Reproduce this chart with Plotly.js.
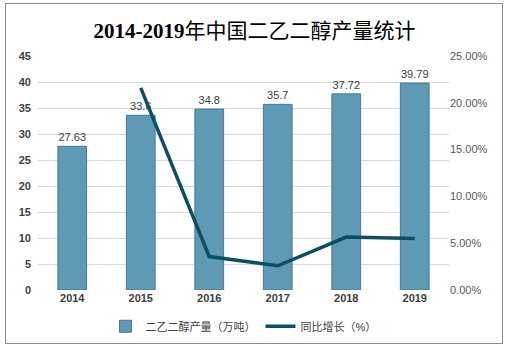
<!DOCTYPE html>
<html><head><meta charset="utf-8">
<script src="https://cdn.plot.ly/plotly-3.0.1.min.js"></script>
<style>html,body{margin:0;padding:0;background:#fff;}#frame{position:absolute;left:5px;top:3px;width:496px;height:339px;border:1px solid #8c8c8c;pointer-events:none;z-index:10;}#chart{position:absolute;left:0;top:0;width:509px;height:358px;}</style>
</head><body>
<div id="chart"></div><div id="frame"></div>
<script>
const years = ['2014','2015','2016','2017','2018','2019'];
const output = [27.63, 33.6, 34.8, 35.7, 37.72, 39.79];
const outputLabels = ['27.63','33.6','34.8','35.7','37.72','39.79'];
const growthYears = ['2015','2016','2017','2018','2019'];
const growth = [0.216, 0.0357, 0.0259, 0.0566, 0.0549];

const cjk = 'Liberation Sans, Noto Sans CJK SC, sans-serif';
const data = [
  {type:'bar', x:years, y:output, name:'二乙二醇产量（万吨）', width:0.42,
   marker:{color:'#5e9ab6', line:{color:'#4a7a90', width:1}},
   text:outputLabels, textposition:'outside', cliponaxis:false,
   textfont:{family:cjk, size:11, color:'#404040'}},
  {type:'scatter', mode:'lines', x:growthYears, y:growth, yaxis:'y2', name:'同比增长（%）',
   line:{color:'#0b4f63', width:3.5}}
];
const layout = {
  width:509, height:358,
  margin:{l:38, r:60, t:56, b:68},
  paper_bgcolor:'#fff', plot_bgcolor:'#fff',
  title:{text:'<b>2014-2019</b>年中国二乙二醇产量统计', font:{family:'Liberation Serif, Noto Sans CJK SC, serif', size:21, color:'#000'}, x:0.5, xanchor:'center', y:0.915, yanchor:'middle', yref:'container'},
  xaxis:{type:'category', showgrid:false, zeroline:false, showline:false, ticks:'',
    tickfont:{family:cjk, size:11, color:'#404040', weight:'bold'}},
  yaxis:{range:[0,45], dtick:5, gridcolor:'#d9d9d9', gridwidth:1, zeroline:false, showline:false,
    tickfont:{family:cjk, size:11, color:'#404040', weight:'bold'}, ticklabelstandoff:6},
  yaxis2:{range:[0,0.25], dtick:0.05, tickformat:'.2%', overlaying:'y', side:'right', showgrid:false, zeroline:false,
    tickfont:{family:cjk, size:11, color:'#595959'}},
  bargap:0.58,
  showlegend:true,
  legend:{orientation:'h', x:0.5, xanchor:'center', y:-0.155, yanchor:'middle',
    font:{family:cjk, size:11, color:'#404040'}, itemwidth:30},
  font:{family:cjk}
};
Plotly.newPlot('chart', data, layout, {displayModeBar:false, staticPlot:true});
</script>
</body></html>
